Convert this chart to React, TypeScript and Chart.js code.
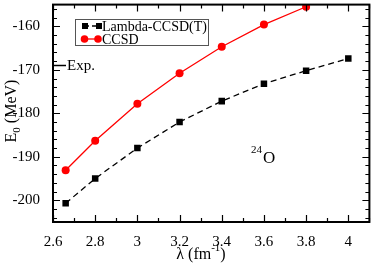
import { useEffect, useRef } from "react";
import { Chart, registerables } from "chart.js";
Chart.register(...registerables);

const lambdaT = [2.66, 2.8, 3.0, 3.2, 3.4, 3.6, 3.8, 4.0];
const lambdaCCSDT = [-200.7, -195.0, -188.0, -182.0, -177.2, -173.2, -170.2, -167.4];
const lambdaC = [2.66, 2.8, 3.0, 3.2, 3.4, 3.6, 3.8];
const ccsd = [-193.1, -186.3, -177.8, -170.8, -164.7, -159.6, -155.5];
const expValue = -168.96;
const xTicks = [2.6, 2.8, 3.0, 3.2, 3.4, 3.6, 3.8, 4.0];
const yTicks = [-200, -190, -180, -170, -160];
const seriesNames = ["Lambda-CCSD(T)", "CCSD"];

const FONT = "'Liberation Serif', 'DejaVu Serif', serif";

const decorPlugin = {
  id: "decor",
  afterDraw(chart: any) {
    const ctx = chart.ctx as CanvasRenderingContext2D;
    const { left, right, top, bottom } = chart.chartArea;
    const xs = chart.scales.x;
    const ys = chart.scales.y;
    ctx.save();
    ctx.strokeStyle = "#000";
    ctx.lineWidth = 2;
    ctx.strokeRect(left, top, right - left, bottom - top);
    ctx.lineWidth = 1.2;
    ctx.beginPath();
    for (let i = 0; i <= 15; i++) {
      const v = 2.6 + i * 0.1;
      const px = Math.round(xs.getPixelForValue(v)) + 0.5;
      const len = i % 2 === 0 ? 7 : 4;
      ctx.moveTo(px, bottom);
      ctx.lineTo(px, bottom - len);
      ctx.moveTo(px, top);
      ctx.lineTo(px, top + len);
    }
    for (let v = -204; v <= -156; v += 2) {
      const py = Math.round(ys.getPixelForValue(v)) + 0.5;
      const len = v % 10 === 0 ? 7 : 4;
      ctx.moveTo(left, py);
      ctx.lineTo(left + len, py);
      ctx.moveTo(right, py);
      ctx.lineTo(right - len, py);
    }
    ctx.stroke();
    const ey = Math.round(ys.getPixelForValue(expValue)) + 0.5;
    ctx.lineWidth = 1.5;
    ctx.beginPath();
    ctx.moveTo(left, ey);
    ctx.lineTo(left + 13, ey);
    ctx.stroke();
    ctx.fillStyle = "#000";
    ctx.font = `15px ${FONT}`;
    ctx.textBaseline = "middle";
    ctx.textAlign = "left";
    ctx.fillText("Exp.", left + 14, ey + 1);

    ctx.lineWidth = 1;
    ctx.strokeStyle = "#555";
    ctx.strokeRect(75.5, 19.5, 133, 26);
    const r1 = 26;
    const r2 = 39;
    ctx.strokeStyle = "#000";
    ctx.lineWidth = 1.3;
    ctx.setLineDash([4, 3]);
    ctx.beginPath();
    ctx.moveTo(85, r1);
    ctx.lineTo(99, r1);
    ctx.stroke();
    ctx.setLineDash([]);
    ctx.fillStyle = "#000";
    ctx.fillRect(82, r1 - 3, 6, 6);
    ctx.fillRect(96, r1 - 3, 6, 6);
    ctx.strokeStyle = "#ff0000";
    ctx.beginPath();
    ctx.moveTo(84, r2);
    ctx.lineTo(98, r2);
    ctx.stroke();
    ctx.fillStyle = "#ff0000";
    ctx.beginPath();
    ctx.arc(84.5, r2, 3.8, 0, Math.PI * 2);
    ctx.fill();
    ctx.beginPath();
    ctx.arc(98, r2, 3.8, 0, Math.PI * 2);
    ctx.fill();
    ctx.fillStyle = "#000";
    ctx.font = `14px ${FONT}`;
    ctx.fillText(seriesNames[0], 102, r1 + 1);
    ctx.fillText(seriesNames[1], 102, r2 + 1);

    ctx.font = `11px ${FONT}`;
    ctx.textBaseline = "alphabetic";
    ctx.fillText("24", 251, 153);
    ctx.font = `17px ${FONT}`;
    ctx.fillText("O", 263, 163);

    ctx.font = `16px ${FONT}`;
    const t1 = "λ (fm";
    const w1 = ctx.measureText(t1).width;
    ctx.font = `11px ${FONT}`;
    const t2 = "-1";
    const w2 = ctx.measureText(t2).width;
    ctx.font = `16px ${FONT}`;
    const w3 = ctx.measureText(")").width;
    let sx = 201 - (w1 + w2 + w3) / 2;
    const by = 259;
    ctx.fillText(t1, sx, by);
    sx += w1;
    ctx.font = `11px ${FONT}`;
    ctx.fillText(t2, sx, by - 8);
    sx += w2;
    ctx.font = `16px ${FONT}`;
    ctx.fillText(")", sx, by);

    ctx.translate(16, 111);
    ctx.rotate(-Math.PI / 2);
    ctx.font = `16px ${FONT}`;
    const a1 = "E";
    const b1 = ctx.measureText(a1).width;
    ctx.font = `11px ${FONT}`;
    const a2 = "0";
    const b2 = ctx.measureText(a2).width;
    ctx.font = `16px ${FONT}`;
    const a3 = " (MeV)";
    const b3 = ctx.measureText(a3).width;
    let tx = -(b1 + b2 + b3) / 2;
    ctx.fillText(a1, tx, 0);
    tx += b1;
    ctx.font = `11px ${FONT}`;
    ctx.fillText(a2, tx, 4);
    tx += b2;
    ctx.font = `16px ${FONT}`;
    ctx.fillText(a3, tx, 0);
    ctx.restore();
  },
};

export default function App() {
  const ref = useRef<HTMLCanvasElement | null>(null);
  useEffect(() => {
    if (!ref.current) return;
    const chart = new Chart(ref.current, {
      type: "line",
      data: {
        datasets: [
          {
            label: seriesNames[0],
            data: lambdaT.map((x, i) => ({ x, y: lambdaCCSDT[i] })),
            borderColor: "#000",
            backgroundColor: "#000",
            borderWidth: 1.3,
            borderDash: [6, 4],
            pointStyle: "rect",
            pointRadius: 4.6,
            pointBorderWidth: 0,
            tension: 0,
          },
          {
            label: seriesNames[1],
            data: lambdaC.map((x, i) => ({ x, y: ccsd[i] })),
            borderColor: "#ff0000",
            backgroundColor: "#ff0000",
            borderWidth: 1.3,
            pointStyle: "circle",
            pointRadius: 4,
            pointBorderWidth: 0,
            tension: 0,
          },
        ],
      },
      options: {
        animation: false,
        responsive: false,
        maintainAspectRatio: false,
        layout: { padding: { top: 3, right: 2, left: 0, bottom: 0 } },
        plugins: { legend: { display: false }, tooltip: { enabled: false } },
        scales: {
          x: {
            type: "linear",
            min: 2.6,
            max: 4.1,
            grid: { display: false },
            border: { display: false },
            ticks: {
              padding: 3,
              color: "#000",
              font: { family: FONT, size: 15 },
              maxRotation: 0,
              callback: (v: any) => String(Number(Number(v).toFixed(1))),
            },
            afterBuildTicks: (axis: any) => {
              axis.ticks = xTicks.map((v) => ({ value: v }));
            },
            afterFit: (axis: any) => {
              axis.height = 42;
              axis.paddingLeft = 0;
              axis.paddingRight = 0;
              axis.paddingTop = 0;
              axis.paddingBottom = 0;
            },
          },
          y: {
            type: "linear",
            min: -205,
            max: -155,
            grid: { display: false },
            border: { display: false },
            ticks: {
              padding: 5,
              color: "#000",
              font: { family: FONT, size: 15 },
              callback: (v: any) => String(v),
            },
            afterBuildTicks: (axis: any) => {
              axis.ticks = yTicks.map((v) => ({ value: v }));
            },
            afterFit: (axis: any) => {
              axis.width = 53;
              axis.paddingLeft = 0;
              axis.paddingRight = 0;
              axis.paddingTop = 0;
              axis.paddingBottom = 0;
            },
          },
        },
      },
      plugins: [decorPlugin],
    } as any);
    return () => chart.destroy();
  }, []);
  return (
    <div style={{ position: "fixed", left: 0, top: 0, width: 374, height: 264, background: "#fff" }}>
      <canvas ref={ref} width={374} height={264} style={{ width: 374, height: 264 }} />
    </div>
  );
}
